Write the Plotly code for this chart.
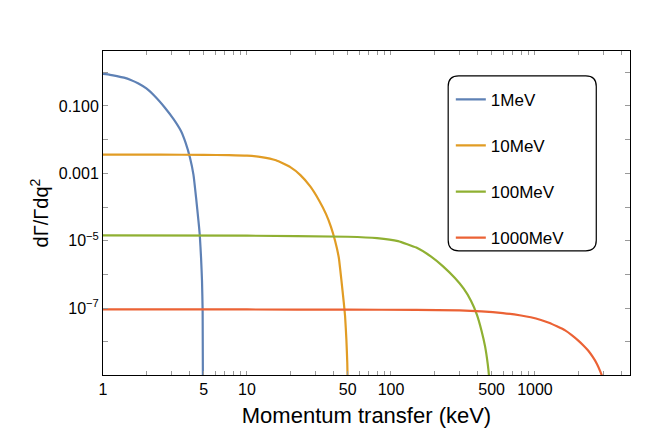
import plotly.graph_objects as go

q_1 = [1, 1.12, 1.25, 1.4, 1.56, 1.75, 2, 2.3, 2.7, 3.1, 3.48, 3.75, 4.02, 4.25, 4.43, 4.6, 4.7, 4.8, 4.87, 4.92, 4.95]
y_1 = [0.89, 0.84, 0.77, 0.69, 0.59, 0.47, 0.33, 0.19, 0.087, 0.04, 0.018, 0.008, 0.0029, 0.0009, 1.9e-4, 4e-5, 1.5e-5, 3e-6, 6.6e-7, 8e-8, 1e-10]

q_10 = [1, 2.5, 5, 7.5, 10, 12.6, 15.9, 20, 23.5, 27.5, 31.6, 35.4, 38.3, 40.9, 43.4, 45.2, 47, 48, 49, 49.7, 50.5]
y_10 = [0.0036, 0.00359, 0.00355, 0.00347, 0.00335, 0.00305, 0.00245, 0.00153, 8.9e-4, 4.1e-4, 1.6e-4, 6.2e-5, 2.6e-5, 1.0e-5, 3.2e-6, 7.2e-7, 1.5e-7, 5.8e-8, 1.2e-8, 2.5e-9, 1e-10]

q_100 = [1, 10, 50, 80, 112, 150, 190, 230, 277, 320, 360, 395, 425, 450, 470, 480, 486]
y_100 = [1.45e-5, 1.42e-5, 1.32e-5, 1.2e-5, 9.8e-6, 6.3e-6, 3.4e-6, 1.75e-6, 8e-7, 3.8e-7, 1.65e-7, 6.5e-8, 2.2e-8, 7.5e-9, 2.2e-9, 9e-10, 1e-10]

q_1000 = [1, 10, 50, 150, 300, 425, 600, 800, 935, 1100, 1250, 1420, 1620, 1800, 2000, 2170, 2340, 2520, 2700, 2850, 3000, 3150]
y_1000 = [9.3e-8, 9.2e-8, 9.1e-8, 8.9e-8, 8.6e-8, 8.1e-8, 7.2e-8, 6.1e-8, 5.4e-8, 4.5e-8, 3.7e-8, 2.9e-8, 2.2e-8, 1.6e-8, 1.1e-8, 7.9e-9, 5.6e-9, 3.6e-9, 2.2e-9, 1.3e-9, 7e-10, 1e-10]

names = ["1MeV", "10MeV", "100MeV", "1000MeV"]
colors = ["#5E81B5", "#E19C24", "#8FB032", "#EB6235"]

x_ticks = [1, 5, 10, 50, 100, 500, 1000]
y_ticks = [0.1, 0.001, 1e-5, 1e-7]
y_ticktext = ["0.100", "0.001", "10<sup>−5</sup>", "10<sup>−7</sup>"]

fig = go.Figure()
for i, (q, y) in enumerate([(q_1, y_1), (q_10, y_10), (q_100, y_100), (q_1000, y_1000)]):
    fig.add_trace(go.Scatter(x=q, y=y, mode="lines", name=names[i], legendgroup=names[i],
                             line=dict(color=colors[i], width=2.2, shape="spline", smoothing=0.4)))

xv, xt = [], []
for d in [1, 10, 100, 1000]:
    for m in range(1, 10):
        v = m * d
        xv.append(v)
        xt.append(str(v) if v in x_ticks else "")
yv, yt = [], []
for e in range(0, -10, -1):
    v = 10.0 ** e
    yv.append(v)
    lab = ""
    for tv, tt in zip(y_ticks, y_ticktext):
        if abs(tv - v) / v < 1e-6:
            lab = tt
    yt.append(lab)

fig.update_layout(
    width=664, height=435,
    margin=dict(l=95, r=42, t=43, b=68, autoexpand=False),
    paper_bgcolor="white", plot_bgcolor="white",
    font=dict(family="Liberation Sans, Arial", color="black", size=16),
    xaxis=dict(type="log", range=[0, 3.66], tickvals=xv, ticktext=xt, ticks="inside",
               ticklen=4, tickcolor="#999", showgrid=False, showline=True, linecolor="black",
               linewidth=1, mirror="allticks", zeroline=False, automargin=False,
               tickfont=dict(size=16),
               title=dict(text="Momentum transfer (keV)", font=dict(size=22), standoff=10)),
    yaxis=dict(type="log", range=[-8.98, 0.63], tickvals=yv, ticktext=yt, ticks="inside",
               ticklen=5, tickcolor="#999", showgrid=False, showline=True, linecolor="black",
               linewidth=1, mirror="allticks", zeroline=False, automargin=False,
               tickfont=dict(size=16),
               title=dict(text="dΓ/Γdq<sup>2</sup>", font=dict(size=20), standoff=4)),
    legend=dict(x=0.66, y=0.905, xanchor="left", yanchor="top", bgcolor="rgba(0,0,0,0)",
                borderwidth=0, font=dict(size=17), tracegroupgap=21),
    showlegend=True,
)

x0, x1, y0, y1, r = 0.655, 0.936, 0.383, 0.923, 0.02
ry = r * 527 / 324
path = (f"M {x0+r},{y1} L {x1-r},{y1} Q {x1},{y1} {x1},{y1-ry} L {x1},{y0+ry} "
        f"Q {x1},{y0} {x1-r},{y0} L {x0+r},{y0} Q {x0},{y0} {x0},{y0+ry} "
        f"L {x0},{y1-ry} Q {x0},{y1} {x0+r},{y1} Z")
fig.add_shape(type="path", path=path, xref="paper", yref="paper",
              line=dict(color="black", width=1.2), fillcolor="white", layer="below")

fig.write_html("out.html")
